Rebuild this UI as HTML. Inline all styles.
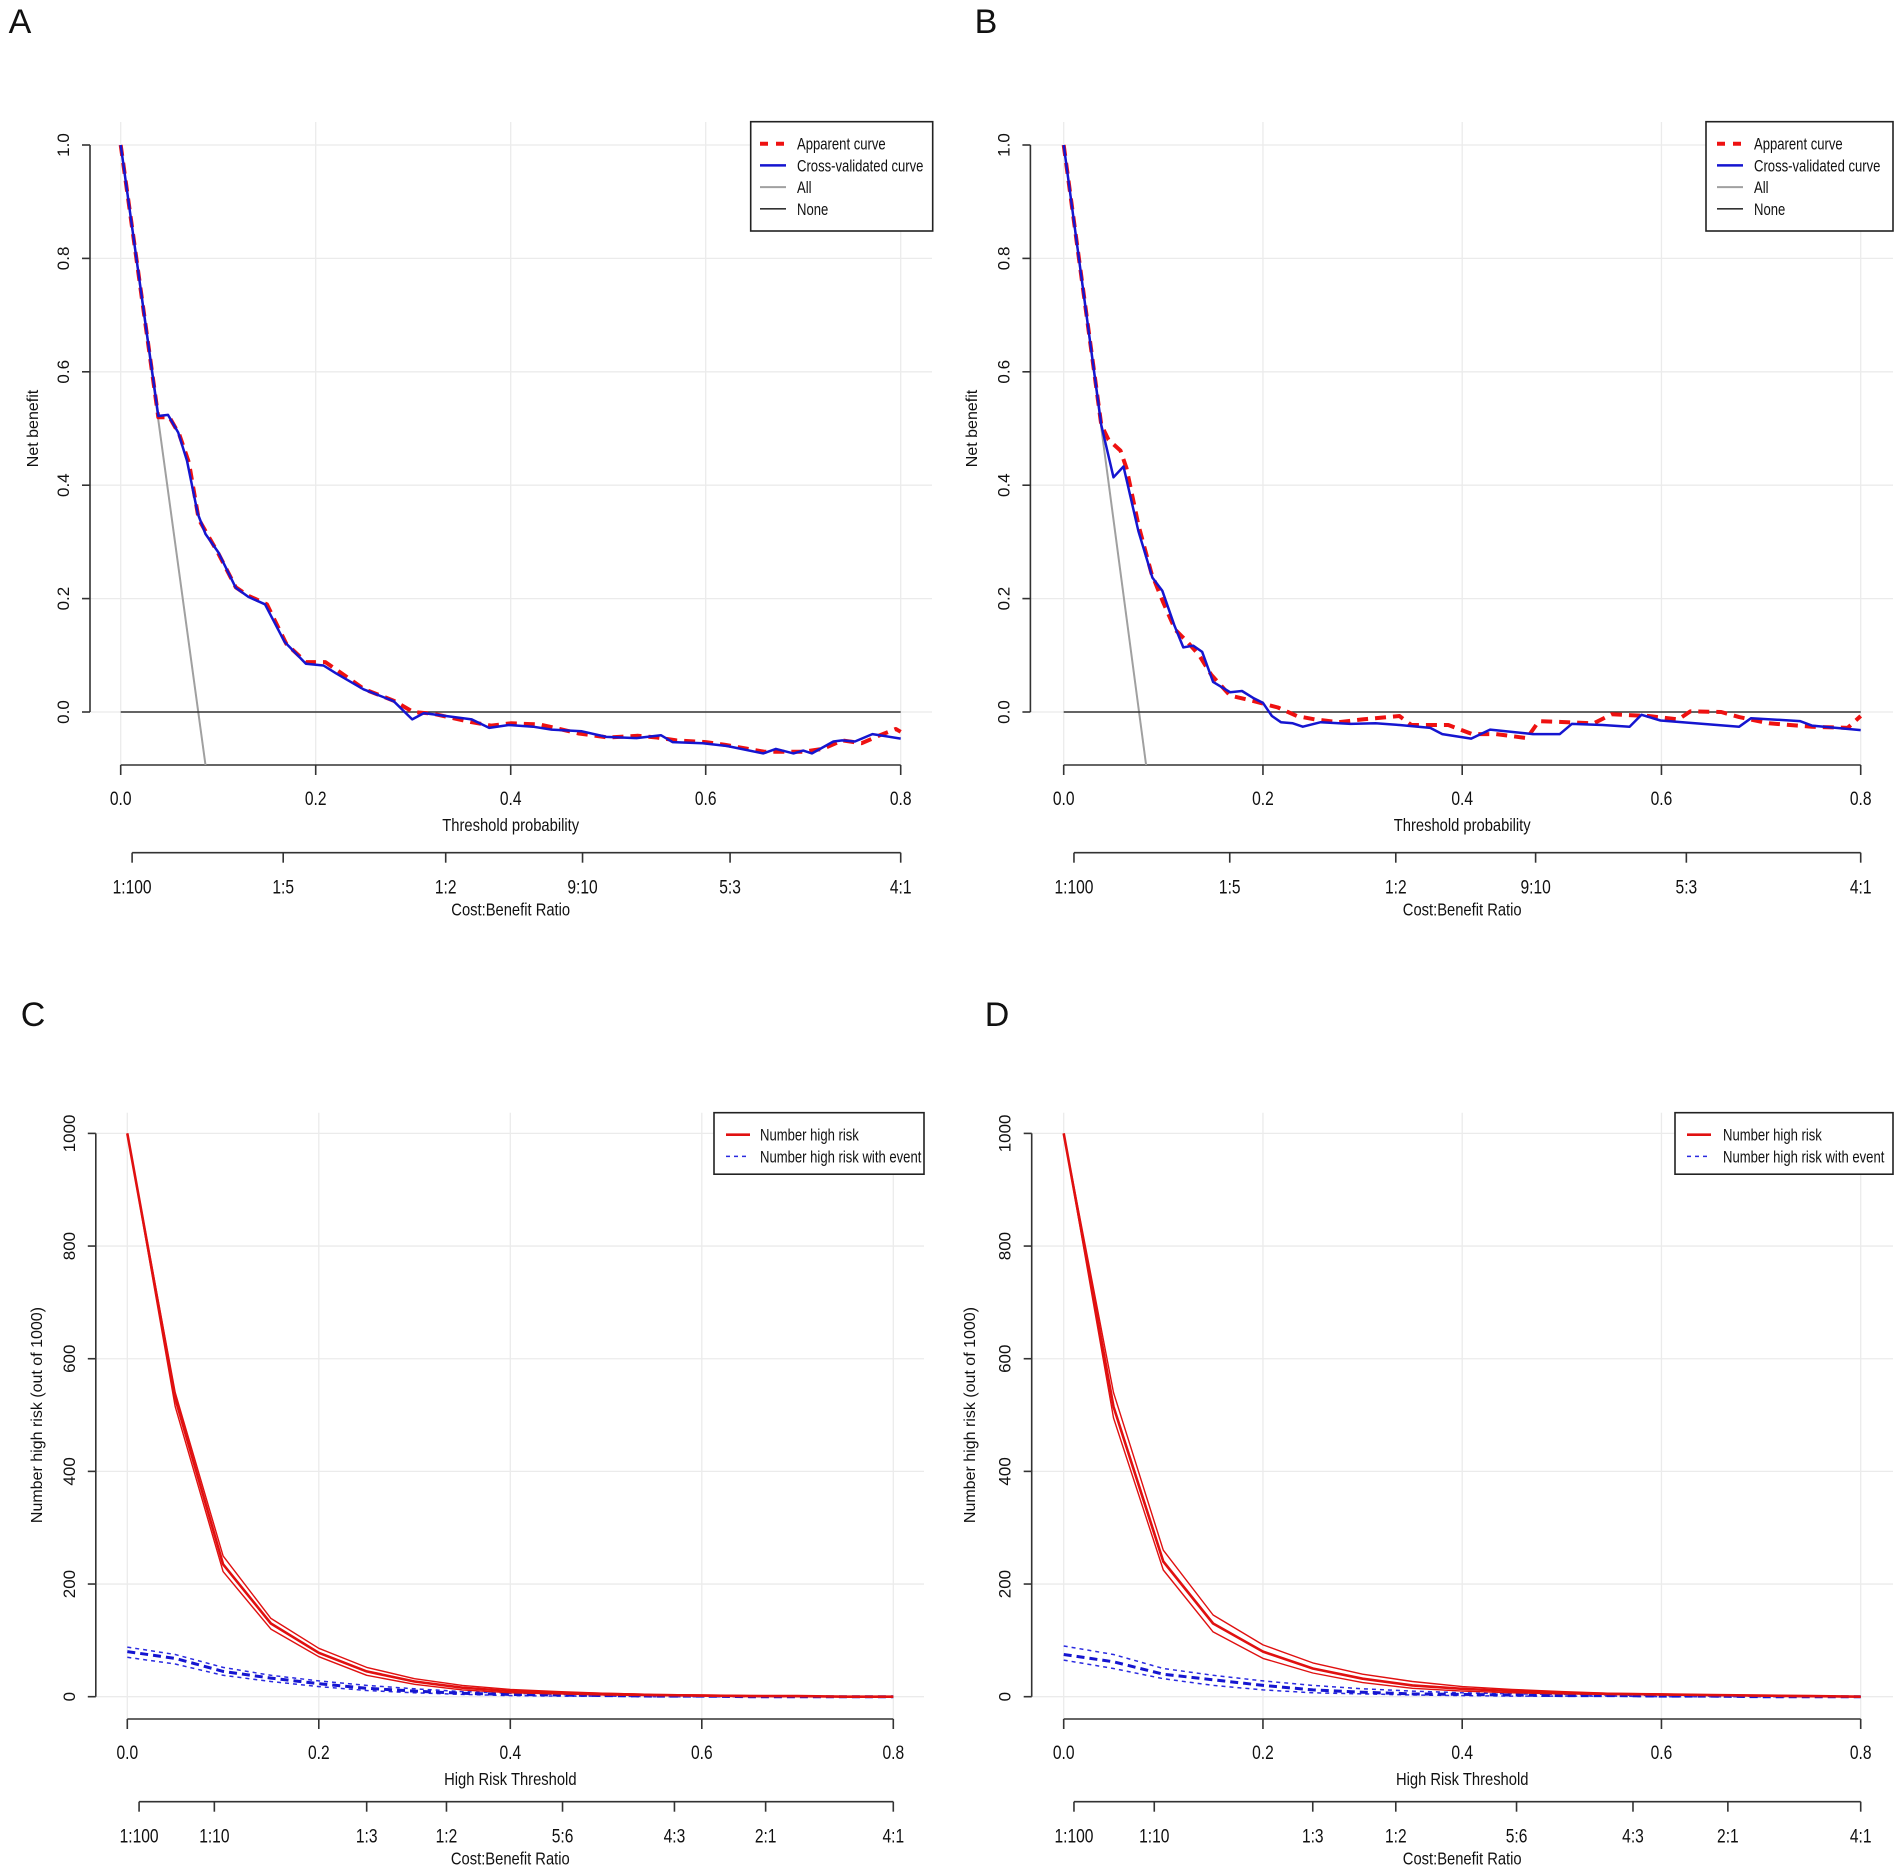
<!DOCTYPE html>
<html><head><meta charset="utf-8">
<style>
html,body{margin:0;padding:0;background:#fff;}
svg{display:block;}
text{font-family:"Liberation Sans",sans-serif;fill:#111;}
.n{font-family:"Liberation Sans Narrow","Liberation Sans",sans-serif;}
</style></head>
<body>
<svg id="fig" width="1902" height="1873" viewBox="0 0 1902 1873" xmlns="http://www.w3.org/2000/svg"></svg>
<script>
// ---- Panel A data (decision curve) ----
const aCvX = [0,0.0386,0.0485,0.059,0.068,0.079,0.087,0.1,0.118,0.131,0.148,0.168,0.19,0.208,0.221,0.249,0.28,0.299,0.311,0.36,0.378,0.398,0.423,0.442,0.473,0.498,0.529,0.554,0.566,0.597,0.622,0.659,0.672,0.69,0.70,0.709,0.731,0.74,0.753,0.771,0.8];
const aCvY = [1.0,0.522,0.524,0.493,0.443,0.35,0.314,0.282,0.219,0.203,0.19,0.124,0.085,0.082,0.068,0.04,0.019,-0.013,-0.002,-0.013,-0.028,-0.023,-0.026,-0.031,-0.034,-0.044,-0.046,-0.041,-0.053,-0.055,-0.06,-0.073,-0.065,-0.073,-0.068,-0.073,-0.052,-0.05,-0.052,-0.039,-0.047];
const aApX = [0,0.0386,0.05,0.06,0.07,0.08,0.09,0.1,0.118,0.131,0.15,0.17,0.19,0.21,0.225,0.25,0.28,0.3,0.32,0.36,0.38,0.4,0.43,0.45,0.47,0.5,0.53,0.55,0.57,0.6,0.62,0.66,0.68,0.7,0.72,0.74,0.76,0.78,0.795,0.8];
const aApY = [1.0,0.52,0.52,0.49,0.44,0.34,0.31,0.28,0.22,0.205,0.19,0.12,0.088,0.088,0.07,0.04,0.02,0.0,-0.003,-0.018,-0.024,-0.02,-0.022,-0.03,-0.038,-0.045,-0.042,-0.045,-0.05,-0.053,-0.058,-0.07,-0.07,-0.07,-0.065,-0.05,-0.055,-0.04,-0.03,-0.035];
const aAllX = [0,0.087];
const aAllY = [1.0,-0.0935];
// ---- Panel B data ----
const bCvX = [0,0.0377,0.05,0.06,0.075,0.089,0.099,0.111,0.12,0.13,0.139,0.15,0.167,0.179,0.191,0.2,0.209,0.218,0.23,0.24,0.258,0.288,0.313,0.337,0.368,0.38,0.409,0.428,0.471,0.498,0.51,0.541,0.568,0.58,0.599,0.678,0.69,0.739,0.751,0.8];
const bCvY = [1.0,0.506,0.414,0.433,0.319,0.237,0.214,0.153,0.114,0.117,0.106,0.053,0.035,0.037,0.024,0.016,-0.007,-0.018,-0.02,-0.026,-0.018,-0.021,-0.02,-0.023,-0.028,-0.039,-0.047,-0.031,-0.039,-0.039,-0.021,-0.023,-0.026,-0.005,-0.015,-0.026,-0.011,-0.016,-0.024,-0.032];
const bApX = [0,0.0377,0.045,0.057,0.063,0.075,0.088,0.1,0.112,0.124,0.136,0.148,0.167,0.191,0.215,0.234,0.252,0.276,0.3,0.337,0.349,0.386,0.41,0.434,0.465,0.477,0.532,0.55,0.587,0.617,0.629,0.66,0.678,0.708,0.751,0.787,0.8];
const bApY = [1.0,0.506,0.48,0.461,0.43,0.33,0.245,0.193,0.145,0.124,0.1,0.066,0.029,0.019,0.008,-0.007,-0.013,-0.018,-0.013,-0.007,-0.023,-0.023,-0.039,-0.039,-0.046,-0.016,-0.02,-0.004,-0.007,-0.013,0.001,0,-0.009,-0.02,-0.026,-0.028,-0.007];
const bAllX = [0,0.0827];
const bAllY = [1.0,-0.0935];
// ---- Panels C/D data (clinical impact) ----
const thr = [0,0.05,0.1,0.15,0.2,0.25,0.3,0.35,0.4,0.45,0.5,0.55,0.6,0.65,0.7,0.75,0.8];
const cRed = [1000,530,235,130,78,45,27,16,10,7,5,3,2,1,1,0,0];
const cRedHi = [1000,540,250,139,86,52,32,20,13,9,6,4,3,2,1,0,0];
const cRedLo = [1000,515,222,120,71,38,22,12,7,5,3,2,1,1,0,0,0];
const cBlue = [80,68,45,33,23,15,10,6,4,3,2,1,1,0,0,0,0];
const cBlueHi = [88,75,52,38,28,20,14,9,6,4,3,2,1,1,0,0,0];
const cBlueLo = [70,58,38,27,18,11,7,4,2,1,1,0,0,0,0,0,0];
const dRed = [1000,515,240,130,80,50,32,20,14,10,7,5,4,3,2,1,0];
const dRedHi = [1000,540,260,145,92,60,40,27,18,13,9,6,5,3,2,1,0];
const dRedLo = [1000,495,225,115,68,42,25,15,10,7,5,4,3,2,1,0,0];
const dBlue = [75,62,40,30,20,12,8,5,4,3,2,2,1,1,0,0,0];
const dBlueHi = [90,75,50,38,28,20,14,10,7,5,4,3,2,1,1,0,0];
const dBlueLo = [65,50,32,20,12,7,5,3,2,1,1,1,0,0,0,0,0];
// tick labels
const xTicks = [0,0.2,0.4,0.6,0.8];
const xTickLabels = ["0.0","0.2","0.4","0.6","0.8"];
const nbTicks = [0,0.2,0.4,0.6,0.8,1.0];
const nbTickLabels = ["0.0","0.2","0.4","0.6","0.8","1.0"];
const nhTicks = [0,200,400,600,800,1000];
const nhTickLabels = ["0","200","400","600","800","1000"];
const cbLabelsAB = ["1:100","1:5","1:2","9:10","5:3","4:1"];
const cbLabelsCD = ["1:100","1:10","1:3","1:2","5:6","4:3","2:1","4:1"];

const NS="http://www.w3.org/2000/svg";
const fig=document.getElementById('fig');
function mk(tag,attrs,parent){const e=document.createElementNS(NS,tag);for(const k in attrs)e.setAttribute(k,attrs[k]);(parent||fig).appendChild(e);return e;}
function txt(s,x,y,size,anchor,narrow,rot,parent,sx){
  const t=mk('text',{'font-size':size,'text-anchor':anchor||'middle'},parent);
  if(narrow){t.setAttribute('class','n');t.setAttribute('transform','translate('+x+','+y+') scale('+(sx||0.82)+',1)'+(rot?' rotate('+rot+')':''));}
  else t.setAttribute('transform','translate('+x+','+y+')'+(rot?' rotate('+rot+')':''));
  t.textContent=s;return t;}
function cbToT(s){const p=s.split(':').map(Number);return p[0]/(p[0]+p[1]);}

function panel(cfg){
  const g=mk('g',{});
  
  
  const X=v=>cfg.x0+(v/0.8)*(cfg.x1-cfg.x0);
  const Y=v=>cfg.yZero-v*cfg.yScale;
  const lab=txt(cfg.letter,cfg.lx,cfg.ly,34,'middle',false,0,g);
  
  
  const grid=mk('g',{stroke:'#ebebeb','stroke-width':1.3},g);
  
  
  cfg.yTicks.forEach(v=>mk('line',{x1:cfg.yAxisX,x2:cfg.gridR,y1:Y(v),y2:Y(v)},grid));
  xTicks.forEach(v=>mk('line',{x1:X(v),x2:X(v),y1:cfg.gridT,y2:cfg.xAxisY},grid));
  const ya=mk('g',{stroke:'#333','stroke-width':1.6},g);
  
  
  mk('line',{x1:cfg.yAxisX,x2:cfg.yAxisX,y1:Y(cfg.yTicks[cfg.yTicks.length-1]),y2:Y(0)},ya);
  cfg.yTicks.forEach((v,i)=>{mk('line',{x1:cfg.yAxisX-8,x2:cfg.yAxisX,y1:Y(v),y2:Y(v)},ya);
    const t=txt(cfg.yLabels[i],cfg.yAxisX-21,Y(v),17,'middle',false,-90,g);
    
    });
  const yt=txt(cfg.yTitle,cfg.yTitleX,(Y(0)+Y(cfg.yTicks[cfg.yTicks.length-1]))/2,16,'middle',false,-90,g);
  
  
  const xa=mk('g',{stroke:'#333','stroke-width':1.6},g);
  
  
  mk('line',{x1:X(0),x2:X(0.8),y1:cfg.xAxisY,y2:cfg.xAxisY},xa);
  xTicks.forEach((v,i)=>{mk('line',{x1:X(v),x2:X(v),y1:cfg.xAxisY,y2:cfg.xAxisY+10},xa);
    const t=txt(xTickLabels[i],X(v),cfg.xAxisY+40,19,'middle',true,0,g);
    
    });
  const xt=txt(cfg.xTitle,(X(0)+X(0.8))/2,cfg.xAxisY+66,18,'middle',true,0,g);
  
  
  const cb=mk('g',{stroke:'#333','stroke-width':1.6},g);
  
  
  const cbx=cfg.cbLabels.map(s=>{const t=cbToT(s);return X(cfg.cbMap(t));});
  mk('line',{x1:cbx[0],x2:cbx[cbx.length-1],y1:cfg.cbY,y2:cfg.cbY},cb);
  cfg.cbLabels.forEach((s,i)=>{mk('line',{x1:cbx[i],x2:cbx[i],y1:cfg.cbY,y2:cfg.cbY+10},cb);
    const t=txt(s,cbx[i],cfg.cbY+41,19,'middle',true,0,g);
    
    });
  const ct=txt('Cost:Benefit Ratio',(X(0)+X(0.8))/2,cfg.cbY+63,18,'middle',true,0,g);
  
  
  const cid='clip'+cfg.letter;
  const cp=mk('clipPath',{id:cid},g);mk('rect',{x:X(0)-5,y:cfg.gridT-30,width:X(0.8)-X(0)+10,height:cfg.xAxisY-cfg.gridT+30},cp);
  const sg=mk('g',{'clip-path':'url(#'+cid+')'},g);
  function series(xs,ys,st,name){const p=mk('polyline',Object.assign({points:xs.map((x,i)=>X(x).toFixed(1)+','+Y(ys[i]).toFixed(1)).join(' '),fill:'none','stroke-linejoin':'round'},st),sg);
    
    return p;}
  cfg.series.forEach(s=>series(s.x,s.y,s.st,s.name));
  const lg=mk('g',{},g);
  
  
  mk('rect',{x:cfg.leg.x,y:cfg.leg.y,width:cfg.leg.w,height:cfg.leg.h,fill:'#fff',stroke:'#222','stroke-width':1.6},lg);
  cfg.leg.items.forEach((it,i)=>{const yy=cfg.leg.y+22+i*21.7;
    const e=mk('g',{},lg);
    
    
    mk('line',Object.assign({x1:cfg.leg.lx1,x2:cfg.leg.lx2,y1:yy,y2:yy},it.st),e);
    txt(it.label,cfg.leg.tx,yy+6,17,'start',true,0,e,0.77);});
}

const nbAxisCfg={yTicks:nbTicks,yLabels:nbTickLabels,yTitle:'Net benefit',xTitle:'Threshold probability',cbLabels:cbLabelsAB,
  yZero:712,yScale:567,gridT:122,xAxisY:765,cbY:852.7};
const apSt={stroke:'#ee1111','stroke-width':4,'stroke-dasharray':'11,7'};
const cvSt={stroke:'#1515d0','stroke-width':2.5};
const allSt={stroke:'#a0a0a0','stroke-width':2};
const noneSt={stroke:'#333','stroke-width':1.6};
function mkNB(letter,name,x0,x1,yAxisX,gridR,lx,leg,cvX,cvY,apX,apY,allX,allY,yTitleX,cbStart){
  panel(Object.assign({},nbAxisCfg,{letter,name,x0,x1,yAxisX,gridR,lx,ly:33,yTitleX,
    cbMap:t=>t<0.05?cbStart:t,
    series:[{x:allX,y:allY,st:allSt,name:'all-line'},{x:[0,0.8],y:[0,0],st:noneSt,name:'none-line'},
      {x:apX,y:apY,st:apSt,name:'apparent-curve'},{x:cvX,y:cvY,st:cvSt,name:'cross-validated-curve'}],
    leg:Object.assign(leg,{items:[{label:'Apparent curve',st:{stroke:'#ee1111','stroke-width':4,'stroke-dasharray':'8,8'}},
      {label:'Cross-validated curve',st:{stroke:'#1515d0','stroke-width':2.5}},{label:'All',st:{stroke:'#a0a0a0','stroke-width':2}},
      {label:'None',st:{stroke:'#333','stroke-width':1.6}}]})}));
}
mkNB('A','panel-a-decision-curve',120.7,900.7,90,932,20,{x:750.7,y:121.7,w:182,h:109.3,lx1:760,lx2:786,tx:797},aCvX,aCvY,aApX,aApY,aAllX,aAllY,38,0.0117);
mkNB('B','panel-b-decision-curve',1063.7,1860.7,1030.4,1893,986,{x:1706,y:121.7,w:187,h:109.3,lx1:1717,lx2:1743,tx:1754},bCvX,bCvY,bApX,bApY,bAllX,bAllY,977,0.0103);

const nhAxisCfg={yTicks:nhTicks,yLabels:nhTickLabels,yTitle:'Number high risk (out of 1000)',xTitle:'High Risk Threshold',cbLabels:cbLabelsCD,
  yZero:1696.7,yScale:0.5633,gridT:1112.7,xAxisY:1719,cbY:1801.7};
function mkNH(letter,name,x0,x1,yAxisX,gridR,lx,leg,r,rh,rl,b,bh,bl,yTitleX,cbStart){
  panel(Object.assign({},nhAxisCfg,{letter,name,x0,x1,yAxisX,gridR,lx,ly:1026,yTitleX,
    cbMap:t=>t<0.05?cbStart:t,
    series:[{x:thr,y:bh,st:{stroke:'#2a2ae0','stroke-width':1.5,'stroke-dasharray':'4,4'},name:'high-risk-event-upper'},
      {x:thr,y:bl,st:{stroke:'#2a2ae0','stroke-width':1.5,'stroke-dasharray':'4,4'},name:'high-risk-event-lower'},
      {x:thr,y:b,st:{stroke:'#1515d0','stroke-width':3,'stroke-dasharray':'8,5'},name:'high-risk-event'},
      {x:thr,y:rh,st:{stroke:'#e01010','stroke-width':1.4},name:'high-risk-upper'},
      {x:thr,y:rl,st:{stroke:'#e01010','stroke-width':1.4},name:'high-risk-lower'},
      {x:thr,y:r,st:{stroke:'#e01010','stroke-width':2.6},name:'number-high-risk'}],
    leg:Object.assign(leg,{items:[{label:'Number high risk',st:{stroke:'#e01010','stroke-width':2.6}},
      {label:'Number high risk with event',st:{stroke:'#2a2ae0','stroke-width':1.5,'stroke-dasharray':'4,4'}}]})}));
}
mkNH('C','panel-c-clinical-impact',127.3,893.3,95.8,924,33,{x:714,y:1112.7,w:210,h:61.5,lx1:726,lx2:750,tx:760},cRed,cRedHi,cRedLo,cBlue,cBlueHi,cBlueLo,42,0.0123);
mkNH('D','panel-d-clinical-impact',1063.7,1860.7,1031.7,1893,997,{x:1675,y:1112.7,w:218,h:61.5,lx1:1687,lx2:1711,tx:1723},dRed,dRedHi,dRedLo,dBlue,dBlueHi,dBlueLo,975,0.0103);
</script>
</body></html>
